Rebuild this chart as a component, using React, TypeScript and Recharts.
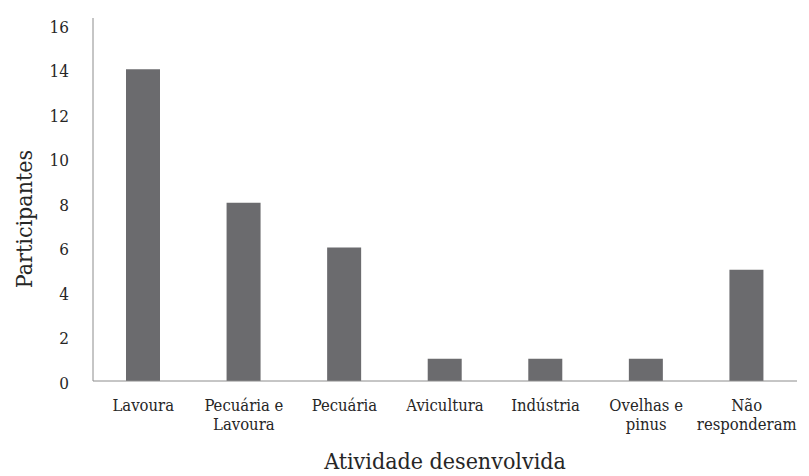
import { BarChart, Bar, XAxis, YAxis, Label } from 'recharts';

const categories = [
  'Lavoura',
  'Pecuária e\nLavoura',
  'Pecuária',
  'Avicultura',
  'Indústria',
  'Ovelhas e\npinus',
  'Não\nresponderam',
];
const participantes = [14, 8, 6, 1, 1, 1, 5];
const yTicks = [0, 2, 4, 6, 8, 10, 12, 14, 16];

const data = categories.map((name, i) => ({ name, value: participantes[i] }));

const FONT = '"DejaVu Serif Condensed", "DejaVu Serif", serif';
const TEXT = '#262626';

function CategoryTick(props: any) {
  const { x, y, payload } = props;
  const lines = String(payload.value).split('\n');
  return (
    <text
      x={x}
      y={y + 30}
      textAnchor="middle"
      fill={TEXT}
      fontFamily={FONT}
      fontSize={16.5}
      style={{ fontStretch: 'condensed' }}
    >
      {lines.map((line, i) => (
        <tspan key={i} x={x} dy={i === 0 ? 0 : 19}>
          {line}
        </tspan>
      ))}
    </text>
  );
}

function ValueTick(props: any) {
  const { x, y, payload } = props;
  return (
    <text
      x={x}
      y={y + 8}
      textAnchor="end"
      fill={TEXT}
      fontFamily={FONT}
      fontSize={17}
      style={{ fontStretch: 'condensed' }}
    >
      {payload.value}
    </text>
  );
}

export default function App() {
  return (
    <div style={{ position: 'absolute', left: 0, top: 0, background: '#fff' }}>
      <BarChart
        width={809}
        height={476}
        data={data}
        margin={{ top: 18, right: 12, left: 0, bottom: 0 }}
      >
        <XAxis
          dataKey="name"
          height={95}
          tickLine={false}
          tickSize={0}
          tickMargin={0}
          interval={0}
          axisLine={{ stroke: '#8c8c8c', strokeWidth: 1 }}
          tick={<CategoryTick />}
        >
          <Label
            content={(p: any) => {
              const vb = p.viewBox;
              return (
                <text
                  x={vb.x + vb.width / 2}
                  y={469}
                  textAnchor="middle"
                  fill={TEXT}
                  fontFamily={FONT}
                  fontSize={23}
                  style={{ fontStretch: 'condensed' }}
                >
                  Atividade desenvolvida
                </text>
              );
            }}
          />
        </XAxis>
        <YAxis
          width={93}
          domain={[0, 16.3]}
          ticks={yTicks}
          tickLine={false}
          tickSize={0}
          tickMargin={24}
          allowDataOverflow
          axisLine={{ stroke: '#8c8c8c', strokeWidth: 1 }}
          tick={<ValueTick />}
        >
          <Label
            content={() => (
              <text
                x={0}
                y={0}
                transform="translate(32,219) rotate(-90)"
                textAnchor="middle"
                fill={TEXT}
                fontFamily={FONT}
                fontSize={23}
                style={{ fontStretch: 'condensed' }}
              >
                Participantes
              </text>
            )}
          />
        </YAxis>
        <Bar dataKey="value" fill="#6b6b6e" barSize={34} isAnimationActive={false} />
      </BarChart>
    </div>
  );
}
